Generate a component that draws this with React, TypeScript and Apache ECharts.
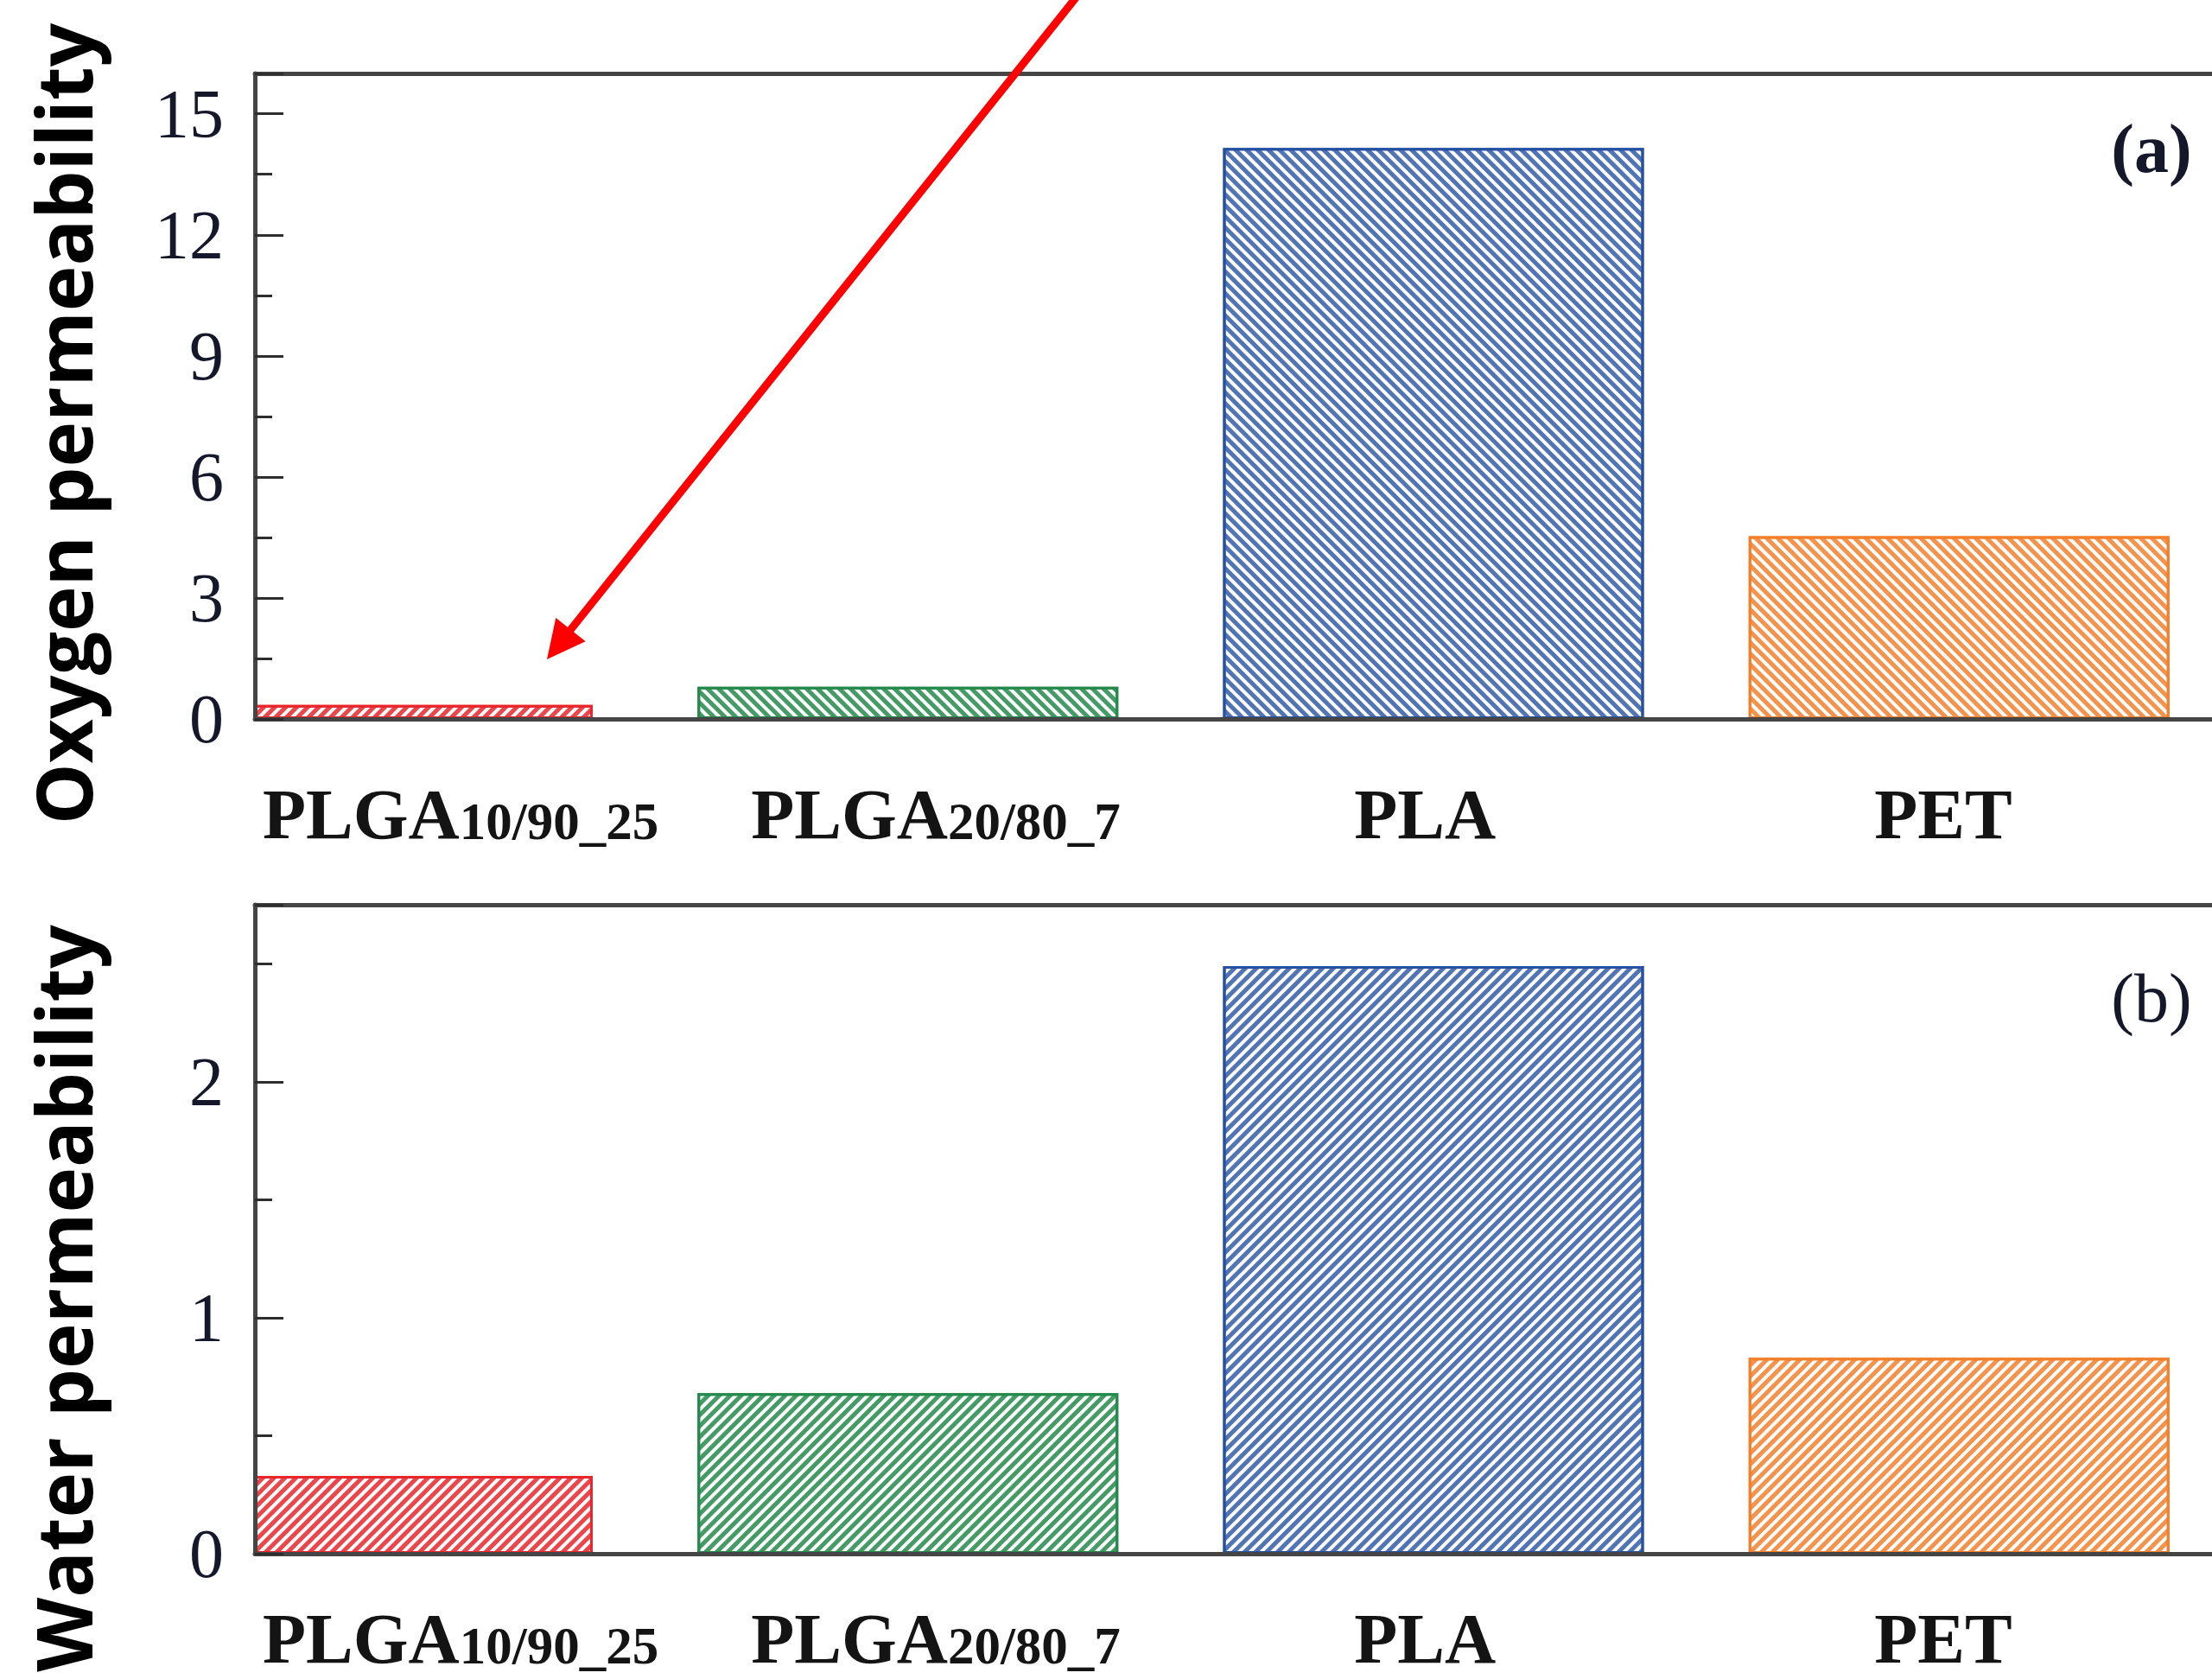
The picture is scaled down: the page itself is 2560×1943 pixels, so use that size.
import React, { useEffect, useRef } from "react";
import * as echarts from "echarts";

// ---- data ----
const categories = ["PLGA10/90_25", "PLGA20/80_7", "PLA", "PET"];
const catMain = ["PLGA", "PLGA", "PLA", "PET"];
const catSub = ["10/90_25", "20/80_7", "", ""];
const oxygenValues = [0.35, 0.8, 14.15, 4.53];
const waterValues = [0.33, 0.68, 2.49, 0.83];
const barColors = ["#e8262c", "#238a4b", "#2651a3", "#f47f2b"];
const hatchColors = ["rgba(232,38,44,0.85)", "rgba(35,138,75,0.85)", "rgba(38,81,163,0.8)", "rgba(244,127,43,0.85)"];
const oxygenHatch = ["/", "\\", "\\", "\\"];
const waterHatch = ["/", "/", "/", "/"];
const labelPos = [0.149, 1.053, 1.984, 2.97];
const oxygenAxis = { min: 0, max: 16, interval: 3 };
const waterAxis = { min: 0, max: 2.75, interval: 1 };
const xRange = { min: -0.2425, max: 3.4813 };
const panelTags = ["(a)", "(b)"];
const yTitles = ["Oxygen permeability", "Water permeability"];

const AXIS_COLOR = "#454545";
const SERIF = "Liberation Serif";

function decal(color: string, dir: string) {
  return {
    symbol: "rect",
    symbolSize: 1,
    dashArrayX: [1, 0],
    dashArrayY: [5, 4],
    rotation: dir === "/" ? -Math.PI / 4 : Math.PI / 4,
    color,
    backgroundColor: "#ffffff",
  };
}

function barData(values: number[], dirs: string[]) {
  return values.map((v, i) => ({
    value: [i, v],
    itemStyle: {
      color: "#ffffff",
      borderColor: barColors[i],
      borderWidth: 3,
      decal: decal(hatchColors[i], dirs[i]),
    },
  }));
}

function labelFormatter(v: number) {
  let idx = 0;
  let best = Infinity;
  labelPos.forEach((p, i) => {
    const d = Math.abs(p - v);
    if (d < best) {
      best = d;
      idx = i;
    }
  });
  return catSub[idx] ? `{m|${catMain[idx]}}{s|${catSub[idx]}}` : `{m|${catMain[idx]}}`;
}

function bottomXAxis(gridIndex: number, margin: number) {
  return {
    type: "value",
    gridIndex,
    position: "bottom",
    z: 10,
    min: xRange.min,
    max: xRange.max,
    axisLine: { show: true, onZero: false, lineStyle: { color: AXIS_COLOR, width: 5 } },
    axisTick: { show: false },
    splitLine: { show: false },
    axisLabel: {
      show: true,
      customValues: labelPos,
      formatter: labelFormatter,
      margin,
      hideOverlap: false,
      rich: {
        m: { fontFamily: SERIF, fontWeight: "bold", fontSize: 82, lineHeight: 82, color: "#141414", verticalAlign: "bottom" },
        s: { fontFamily: SERIF, fontWeight: "bold", fontSize: 61, lineHeight: 61, color: "#141414", verticalAlign: "bottom", padding: [0, 0, 2, 0] },
      },
    },
  };
}

function topXAxis(gridIndex: number) {
  return {
    type: "value",
    gridIndex,
    position: "top",
    z: 10,
    min: xRange.min,
    max: xRange.max,
    axisLine: { show: true, onZero: false, lineStyle: { color: AXIS_COLOR, width: 5 } },
    axisTick: { show: false },
    axisLabel: { show: false },
    splitLine: { show: false },
  };
}

function yAxis(gridIndex: number, ax: { min: number; max: number; interval: number }, name: string, shift: number) {
  return {
    type: "value",
    gridIndex,
    z: 10,
    min: ax.min,
    max: ax.max,
    interval: ax.interval,
    name,
    nameLocation: "middle",
    nameGap: 178,
    nameRotate: 90,
    nameTextStyle: {
      fontFamily: "Open Sans",
      fontWeight: "bold",
      fontSize: 89,
      color: "#000000",
      padding: [0, shift, 0, 0],
    },
    axisLine: { show: true, onZero: false, lineStyle: { color: AXIS_COLOR, width: 5 } },
    axisTick: { show: true, inside: true, length: 33, lineStyle: { color: "#2e2e2e", width: 3 } },
    minorTick: { show: true, splitNumber: 2, length: 20, lineStyle: { color: "#2e2e2e", width: 3 } },
    splitLine: { show: false },
    minorSplitLine: { show: false },
    axisLabel: {
      show: true,
      margin: 36,
      showMaxLabel: false,
      fontFamily: SERIF,
      fontSize: 80,
      color: "#15182a",
    },
  };
}

// arrow annotation geometry (pixels)
const arrowTip = [633, 763];
const arrowTail = [1259, -20];
function arrowGraphics() {
  const dx = arrowTip[0] - arrowTail[0];
  const dy = arrowTip[1] - arrowTail[1];
  const len = Math.sqrt(dx * dx + dy * dy);
  const ux = dx / len;
  const uy = dy / len;
  const L = 44;
  const W = 22;
  const bx = arrowTip[0] - L * ux;
  const by = arrowTip[1] - L * uy;
  const nx = -uy;
  const ny = ux;
  return [
    {
      type: "line",
      z: 100,
      shape: { x1: arrowTail[0], y1: arrowTail[1], x2: bx + 4 * ux, y2: by + 4 * uy },
      style: { stroke: "#ff0000", lineWidth: 9 },
    },
    {
      type: "polygon",
      z: 100,
      shape: {
        points: [
          [arrowTip[0], arrowTip[1]],
          [bx + W * nx, by + W * ny],
          [bx - W * nx, by - W * ny],
        ],
      },
      style: { fill: "#ffffff00" === "" ? "#ff0000" : "#ff0000" },
    },
  ];
}

// white masks hiding the part of the first bar that lies left of the y axis
const masks = [
  { x: 110, y: 760, width: 183, height: 78 },
  { x: 110, y: 1650, width: 183, height: 154 },
];

export default function App() {
  const ref = useRef<HTMLDivElement>(null);
  useEffect(() => {
    if (!ref.current) return;
    const chart = echarts.init(ref.current, null, { renderer: "svg" });
    const option: any = {
      animation: false,
      backgroundColor: "#ffffff",
      grid: [
        { left: 295, top: 85, right: 0, height: 747, containLabel: false, outerBoundsMode: "none" },
        { left: 295, top: 1047, right: 0, height: 751, containLabel: false, outerBoundsMode: "none" },
      ],
      xAxis: [bottomXAxis(0, 69), topXAxis(0), bottomXAxis(1, 57), topXAxis(1)],
      yAxis: [
        yAxis(0, oxygenAxis, yTitles[0], 64),
        yAxis(1, waterAxis, yTitles[1], 160),
      ],
      series: [
        {
          type: "bar",
          name: "Oxygen permeability",
          xAxisIndex: 0,
          yAxisIndex: 0,
          barWidth: 487,
          clip: true,
          data: barData(oxygenValues, oxygenHatch),
        },
        {
          type: "bar",
          name: "Water permeability",
          xAxisIndex: 2,
          yAxisIndex: 1,
          barWidth: 487,
          clip: true,
          data: barData(waterValues, waterHatch),
        },
      ],
      graphic: [
        ...masks.map((m) => ({
          type: "rect",
          z: 5,
          shape: { x: m.x, y: m.y, width: m.width, height: m.height },
          style: { fill: "#ffffff" },
        })),
        ...arrowGraphics(),
        {
          type: "text",
          z: 100,
          x: 2490,
          y: 172,
          style: {
            text: panelTags[0],
            fontFamily: SERIF,
            fontWeight: "bold",
            fontSize: 80,
            fill: "#15182a",
            align: "center",
            verticalAlign: "middle",
          },
        },
        {
          type: "text",
          z: 100,
          x: 2490,
          y: 1155,
          style: {
            text: panelTags[1],
            fontFamily: SERIF,
            fontWeight: "normal",
            fontSize: 80,
            fill: "#15182a",
            align: "center",
            verticalAlign: "middle",
          },
        },
      ],
    };
    chart.setOption(option);
    return () => chart.dispose();
  }, []);
  return (
    <div
      ref={ref}
      data-categories={categories.join(",")}
      style={{ position: "absolute", left: 0, top: 0, width: 2560, height: 1943, background: "#ffffff" }}
    />
  );
}
